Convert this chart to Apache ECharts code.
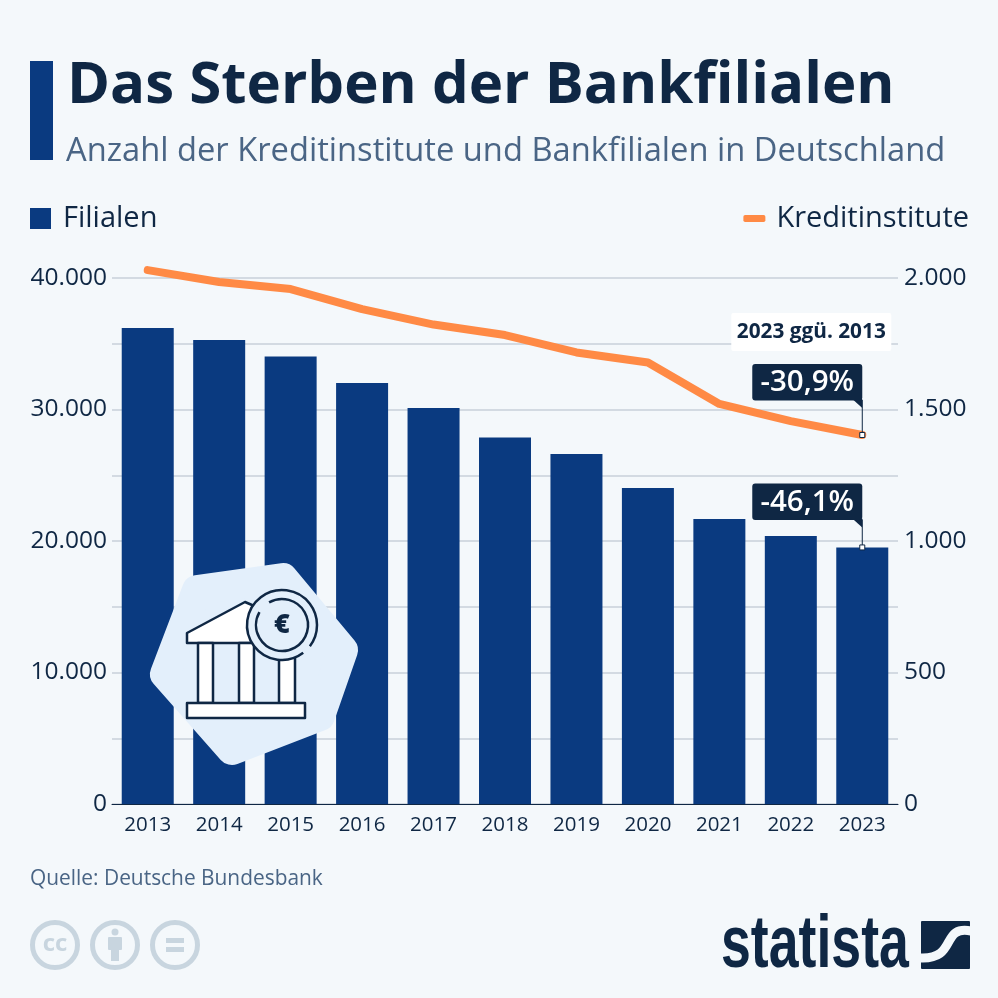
<!DOCTYPE html>
<html>
<head>
<meta charset="utf-8">
<style>html,body{margin:0;padding:0;background:#f4f8fb}#chart{width:998px;height:998px}</style>
<script src="https://cdn.jsdelivr.net/npm/echarts@6/dist/echarts.min.js"></script>
</head>
<body>
<div id="chart"></div>
<script>
// ---------- data ----------
const years = ['2013', '2014', '2015', '2016', '2017', '2018', '2019', '2020', '2021', '2022', '2023'];
const filialen = [36200, 35285, 34030, 32015, 30115, 27870, 26615, 24030, 21675, 20380, 19510];
const kreditinstitute = [2030, 1985, 1958, 1882, 1823, 1783, 1717, 1679, 1521, 1456, 1403];
const changeFilialen = '-46,1%';
const changeKredit = '-30,9%';

const NAVY = '#0f2744';
const BLUE = '#0a3a80';
const ORANGE = '#ff8a45';
const SLATE = '#4a6585';
const FONT = '"Open Sans", sans-serif';
const CC_GREY = '#c8d5df';
const BLOB = '#e3effb';

const fmt = v => String(v).replace(/\B(?=(\d{3})+$)/g, '.');

const chart = echarts.init(document.getElementById('chart'), null, { renderer: 'canvas' });

chart.setOption({
  backgroundColor: '#f4f8fb',
  animation: false,
  textStyle: { fontFamily: FONT },
  legend: [
    {
      data: [{ name: 'Filialen', icon: 'rect' }],
      left: 30, top: 204, padding: 0, itemWidth: 21, itemHeight: 21,
      textStyle: { fontFamily: FONT, fontSize: 29, color: NAVY, padding: [0, 0, 0, 7] },
    },
    {
      data: [{ name: 'Kreditinstitute', icon: 'roundRect' }],
      right: 29, top: 204, padding: 0, itemWidth: 22, itemHeight: 7,
      textStyle: { fontFamily: FONT, fontSize: 29, color: NAVY, padding: [0, 0, 0, 6] },
    },
  ],
  grid: { left: 112, right: 100, top: 278, bottom: 194 },
  xAxis: {
    type: 'category',
    data: years,
    axisTick: { show: false },
    axisLine: { lineStyle: { color: NAVY, width: 1 } },
    axisLabel: { fontFamily: FONT, fontSize: 20.5, color: NAVY, margin: 11 },
  },
  yAxis: [
    {
      type: 'value', min: 0, max: 40000, interval: 5000,
      axisLine: { show: false }, axisTick: { show: false },
      splitLine: { lineStyle: { color: '#c8d0da', width: 1.5 } },
      axisLabel: {
        fontFamily: FONT, fontSize: 24.5, color: NAVY, margin: 5, padding: [5, 0, 0, 0],
        formatter: v => (v % 10000 === 0 ? fmt(v) : ''),
      },
    },
    {
      type: 'value', min: 0, max: 2000, interval: 500,
      axisLine: { show: false }, axisTick: { show: false }, splitLine: { show: false },
      axisLabel: { fontFamily: FONT, fontSize: 24.5, color: NAVY, margin: 6, padding: [5, 0, 0, 0], formatter: v => fmt(v) },
    },
  ],
  series: [
    { name: 'Filialen', type: 'bar', data: filialen, barWidth: 52, itemStyle: { color: BLUE } },
    {
      name: 'Kreditinstitute', type: 'line', yAxisIndex: 1, data: kreditinstitute,
      symbol: 'none', z: 5, clip: false, // 2013 sits above the 2.000 gridline
      lineStyle: { color: ORANGE, width: 8, cap: 'round', join: 'round' },
      itemStyle: { color: ORANGE },
    },
  ],
});

// callout anchored on a data point, drawn in pixels from the scales
const callout = (px, py, boxOffset, label) => {
  const boxTop = py - boxOffset;
  const boxLeft = px - 110;
  return [
    { type: 'line', z: 20, shape: { x1: px, y1: boxTop + 36, x2: px, y2: py }, style: { stroke: NAVY, lineWidth: 1 } },
    { type: 'polygon', z: 20, shape: { points: [[px - 10, boxTop + 35], [px, boxTop + 35], [px, boxTop + 44]] }, style: { fill: NAVY } },
    { type: 'rect', z: 20, shape: { x: boxLeft, y: boxTop, width: 110, height: 36.5, r: 3 }, style: { fill: NAVY } },
    {
      type: 'text', z: 21, x: boxLeft + 55, y: boxTop + 19,
      style: { text: label, fill: '#fff', font: `600 29.5px ${FONT}`, textAlign: 'center', textVerticalAlign: 'middle' },
    },
    { type: 'rect', z: 22, shape: { x: px - 2.5, y: py - 2.5, width: 5, height: 5 }, style: { fill: '#fff', stroke: NAVY, lineWidth: 1 } },
  ];
};

const last = years.length - 1;
const pKredit = chart.convertToPixel({ xAxisIndex: 0, yAxisIndex: 1 }, [last, kreditinstitute[last]]);
const pFilialen = chart.convertToPixel({ xAxisIndex: 0, yAxisIndex: 0 }, [last, filialen[last]]);

const stroke = { fill: '#fff', stroke: NAVY, lineWidth: 2.5, lineJoin: 'round' };

const graphics = [
  // header
  { type: 'rect', shape: { x: 30, y: 61, width: 23, height: 99 }, style: { fill: BLUE } },
  { type: 'text', x: 67, y: 86.5, style: { text: 'Das Sterben der Bankfilialen', fill: NAVY, font: `700 58.2px ${FONT}`, textVerticalAlign: 'middle' } },
  { type: 'text', x: 66, y: 151.5, style: { text: 'Anzahl der Kreditinstitute und Bankfilialen in Deutschland', fill: SLATE, font: `400 32.7px ${FONT}`, textVerticalAlign: 'middle' } },

  // footer
  { type: 'text', x: 30, y: 879, style: { text: 'Quelle: Deutsche Bundesbank', fill: SLATE, font: `400 20.9px ${FONT}`, textVerticalAlign: 'middle' } },

  // cc icons
  { type: 'circle', shape: { cx: 55, cy: 945, r: 22.5 }, style: { fill: 'none', stroke: CC_GREY, lineWidth: 5 } },
  { type: 'text', x: 55, y: 944, style: { text: 'cc', fill: CC_GREY, font: `700 24px ${FONT}`, textAlign: 'center', textVerticalAlign: 'middle' } },
  { type: 'circle', shape: { cx: 115, cy: 945, r: 22.5 }, style: { fill: 'none', stroke: CC_GREY, lineWidth: 5 } },
  { type: 'circle', shape: { cx: 115, cy: 932, r: 3.5 }, style: { fill: CC_GREY } },
  { type: 'rect', shape: { x: 108, y: 937, width: 14, height: 13, r: 1 }, style: { fill: CC_GREY } },
  { type: 'rect', shape: { x: 111, y: 949, width: 8, height: 12 }, style: { fill: CC_GREY } },
  { type: 'circle', shape: { cx: 175, cy: 945, r: 22.5 }, style: { fill: 'none', stroke: CC_GREY, lineWidth: 5 } },
  { type: 'rect', shape: { x: 166, y: 938, width: 18, height: 5 }, style: { fill: CC_GREY } },
  { type: 'rect', shape: { x: 166, y: 947, width: 18, height: 5 }, style: { fill: CC_GREY } },

  // statista logo, squeezed because no narrow bold face is installed
  { type: 'text', x: 721, y: 947, scaleX: 0.725, style: { text: 'statista', fill: NAVY, font: `700 74px "Liberation Sans", sans-serif`, textVerticalAlign: 'middle' } },
  { type: 'rect', shape: { x: 921, y: 921, width: 49, height: 48, r: 1 }, style: { fill: NAVY } },
  {
    type: 'bezierCurve',
    shape: { x1: 971, y1: 931, cpx1: 940, cpy1: 925, cpx2: 958, cpy2: 960, x2: 920, y2: 958 },
    style: { fill: 'none', stroke: '#f4f8fb', lineWidth: 9 },
  },

  // bank icon: thick round stroke gives the blob its soft corners
  {
    type: 'polygon', z: 10,
    shape: { points: [[197, 590], [283, 578], [343, 650], [320, 716], [232, 750], [165, 674]] },
    style: { fill: BLOB, stroke: BLOB, lineWidth: 30, lineJoin: 'round' },
  },
  { type: 'polygon', z: 11, shape: { points: [[187, 643], [187, 633], [245, 602], [252, 605], [262, 643]] }, style: stroke },
  { type: 'rect', z: 11, shape: { x: 198, y: 643, width: 15, height: 60 }, style: stroke },
  { type: 'rect', z: 11, shape: { x: 239, y: 643, width: 15, height: 60 }, style: stroke },
  { type: 'rect', z: 11, shape: { x: 279, y: 655, width: 16, height: 48 }, style: stroke },
  { type: 'rect', z: 11, shape: { x: 187, y: 703, width: 118, height: 15 }, style: stroke },
  { type: 'circle', z: 12, shape: { cx: 282, cy: 625, r: 35 }, style: { fill: BLOB } },
  { type: 'arc', z: 13, shape: { cx: 282, cy: 625, r: 35, startAngle: 0.92, endAngle: 0.65 }, style: { fill: 'none', stroke: NAVY, lineWidth: 2.5 } },
  { type: 'arc', z: 13, shape: { cx: 282, cy: 625, r: 26, startAngle: -2.09, endAngle: -2.62 }, style: { fill: 'none', stroke: NAVY, lineWidth: 2.5 } },
  { type: 'text', z: 13, x: 282, y: 625, style: { text: '€', fill: NAVY, font: `800 27px ${FONT}`, textAlign: 'center', textVerticalAlign: 'middle' } },

  // comparison note
  { type: 'rect', z: 20, shape: { x: pKredit[0] - 131, y: pKredit[1] - 122, width: 160, height: 38, r: 2 }, style: { fill: '#fff' } },
  {
    type: 'text', z: 21, x: pKredit[0] - 51, y: pKredit[1] - 103,
    style: { text: '2023 ggü. 2013', fill: NAVY, font: `700 20.8px ${FONT}`, textAlign: 'center', textVerticalAlign: 'middle' },
  },
  ...callout(pKredit[0], pKredit[1], 71, changeKredit),
  ...callout(pFilialen[0], pFilialen[1], 64, changeFilialen),
];

chart.setOption({ graphic: { elements: graphics } });
</script>
</body>
</html>
